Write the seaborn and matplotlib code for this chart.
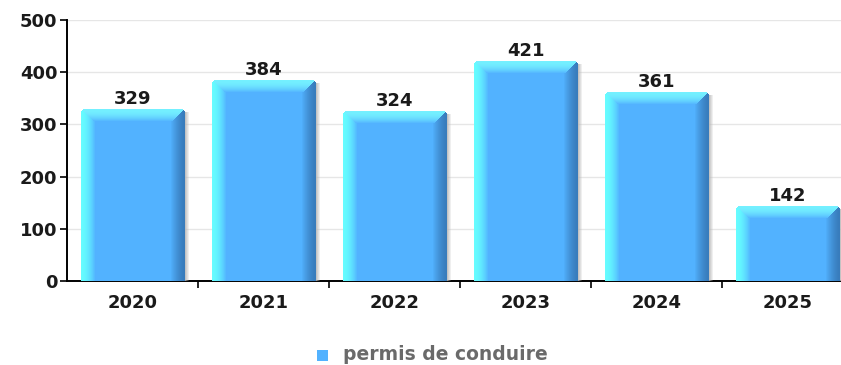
import numpy as np
import pandas as pd
import matplotlib
matplotlib.use("Agg")
import matplotlib.pyplot as plt
from matplotlib.patches import Rectangle
import seaborn as sns

# Data
years = ["2020", "2021", "2022", "2023", "2024", "2025"]
permis = [329, 384, 324, 421, 361, 142]
series_name = "permis de conduire"
y_ticks = [0, 100, 200, 300, 400, 500]

df = pd.DataFrame({"annee": years, "valeur": permis})

sns.set_theme(style="white")
plt.rcParams["font.family"] = ["DejaVu Sans"]

W_PX, H_PX, DPI = 841, 365, 100
fig = plt.figure(figsize=(W_PX / DPI, H_PX / DPI), dpi=DPI)
ax = fig.add_axes([67 / W_PX, 84 / H_PX, 774 / W_PX, 261 / H_PX])

BAR_W = 0.79
sns.barplot(data=df, x="annee", y="valeur", color="#52b2ff", width=BAR_W,
            ax=ax, zorder=3)

slot_px = 131.0
ax.set_xlim(-0.5, -0.5 + 774 / slot_px)
ax.set_ylim(0, 500)

# Axes styling
ax.set_xlabel("")
ax.set_ylabel("")
ax.set_yticks(y_ticks)
ax.set_yticklabels([str(t) for t in y_ticks], fontsize=13, fontweight="bold",
                   color="#1a1a1a")
ax.set_xticks(range(len(years)))
ax.set_xticklabels(years, fontsize=13, fontweight="bold", color="#1a1a1a")
ax.set_xticks([i + 0.5 for i in range(len(years) - 1)], minor=True)
ax.tick_params(axis="x", which="major", length=0, pad=9)
ax.tick_params(axis="x", which="minor", length=5, width=1.2, color="black",
               direction="out", bottom=True)
ax.tick_params(axis="y", which="major", length=5, width=1.2, color="black",
               direction="out", left=True, pad=2)
for side in ("top", "right"):
    ax.spines[side].set_visible(False)
for side in ("left", "bottom"):
    ax.spines[side].set_color("black")
    ax.spines[side].set_linewidth(1.4)
ax.yaxis.grid(True, color="#e6e6e6", linewidth=1, zorder=0)
ax.set_axisbelow(True)

# Shaded 3D-style rendering of each bar
c_main = np.array([0x52, 0xb2, 0xff]) / 255
c_left = np.array([0x66, 0xfc, 0xff]) / 255
c_top = np.array([0x74, 0xf0, 0xff]) / 255
c_right = np.array([0x38, 0x7c, 0xbc]) / 255
c_shadow = np.array([0xb8, 0xb8, 0xb8]) / 255

px_per_unit_y = 261 / 500


def bar_image(w, h, sw=4, side=14, top=12, radius=4):
    img = np.zeros((h, w + sw, 4))
    for v in range(h):
        for u in range(w):
            col = c_main.copy()
            in_left = u < side
            in_right = u >= w - side
            in_top = v < top
            tl = v < u
            tr = v < (w - 1 - u)
            if in_top and ((not in_left or tl) and (not in_right or tr)):
                t = (v / top) ** 2.0
                col = c_top * (1 - t) + c_main * t
            elif in_left:
                t = (u / side) ** 1.8
                col = c_left * (1 - t) + c_main * t
            elif in_right:
                t = ((w - 1 - u) / side) ** 1.4
                col = c_right * (1 - t) + c_main * t
            img[v, u, :3] = col
            img[v, u, 3] = 1.0
        for u in range(sw):
            if v >= 3:
                img[v, w + u, :3] = c_shadow
                img[v, w + u, 3] = 0.85 * (1 - u / sw)
    # rounded top corners
    for v in range(radius):
        for u in range(radius):
            if (radius - u - 0.5) ** 2 + (radius - v - 0.5) ** 2 > radius ** 2:
                img[v, u, 3] = 0
                img[v, w - 1 - u, 3] = 0
    return img


for patch in ax.patches:
    x0 = patch.get_x()
    bw = patch.get_width()
    hgt = patch.get_height()
    patch.set_alpha(0)
    w_px = int(round(bw * slot_px))
    h_px = max(int(round(hgt * px_per_unit_y)), 2)
    sw = 4
    img = bar_image(w_px, h_px, sw=sw)
    x1 = x0 + bw + sw / slot_px
    ax.imshow(img, extent=(x0, x1, 0, hgt), aspect="auto",
              interpolation="nearest", zorder=3, origin="upper")
    ax.annotate(f"{int(round(hgt))}", xy=(x0 + bw / 2, hgt), xytext=(0, 1),
                textcoords="offset points", ha="center", va="bottom",
                fontsize=13, fontweight="bold", color="#1a1a1a", zorder=5)

ax.set_xlim(-0.5, -0.5 + 774 / slot_px)
ax.set_ylim(0, 500)

# Legend below the plot
fig.patches.append(Rectangle((317 / W_PX, (365 - 361) / H_PX), 11 / W_PX,
                             11 / H_PX, transform=fig.transFigure,
                             facecolor="#52b2ff", edgecolor="none"))
fig.text(343 / W_PX, (365 - 355) / H_PX, series_name, fontsize=13.5,
         fontweight="bold", color="#6a6a6a", ha="left", va="center")

fig.savefig("out.png", dpi=DPI)
